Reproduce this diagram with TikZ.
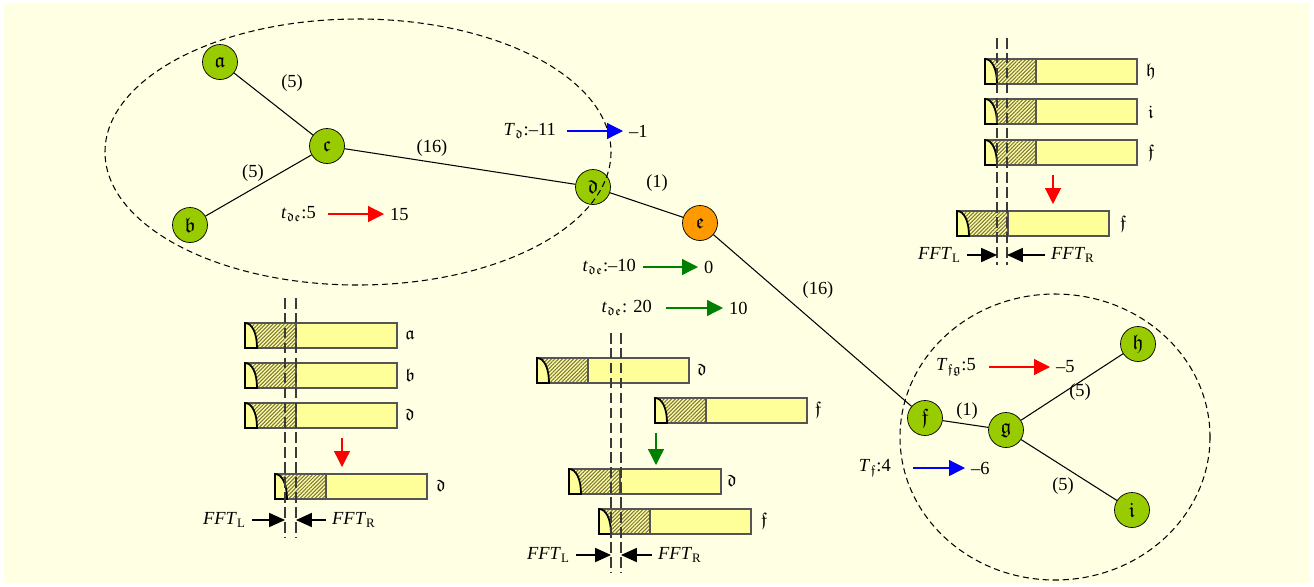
\documentclass[tikz,border=0pt]{standalone}
\usepackage{fontspec}
\setmainfont{Liberation Serif}
\usepackage{amssymb}
\usetikzlibrary{arrows.meta,patterns.meta}

\definecolor{bgyellow}{HTML}{FFFFE3}
\definecolor{taskgreen}{HTML}{99CC00}
\definecolor{taskorange}{HTML}{FF9900}
\definecolor{barfill}{HTML}{FFFF99}
\definecolor{barline}{HTML}{555555}
\definecolor{hatchline}{HTML}{7A7448}
\definecolor{cutgray}{HTML}{3A3A3A}
\definecolor{movegreen}{HTML}{008000}

\tikzset{
  task/.style={circle,draw=black,fill=taskgreen,minimum size=0.70cm,inner sep=0pt,font=\fontsize{12}{14}\selectfont},
  edge/.style={draw=black,line width=0.6pt},
  cluster/.style={draw=black,line width=0.6pt,dash pattern=on 3.5pt off 2.2pt},
  shift arrow/.style={line width=0.7pt,-{Triangle[length=9pt,width=9pt]}},
  drop arrow/.style={line width=0.7pt,-{Triangle[length=9pt,width=9pt]}},
  fft arrow/.style={black,line width=0.7pt,-{Triangle[length=9pt,width=8pt]}},
  cutline/.style={cutgray,line width=1.6pt,dash pattern=on 6pt off 2.5pt},
  taskbar/.pic={
    \fill[barfill] (0,0) rectangle (152,25);
    \fill[pattern={Lines[angle=45,distance=1.5pt,line width=0.6pt]},pattern color=hatchline] (0,0) rectangle (51,25);
    \fill[barfill] (0,0) .. controls (7,0) and (12,10) .. (12,25) -- (0,25) -- cycle;
    \draw[barline,line width=0.6pt] (0,0) rectangle (152,25);
    \draw[barline,line width=0.6pt] (51,0) -- (51,25);
    \draw[black,line width=1pt] (0,0) .. controls (7,0) and (12,10) .. (12,25) -- (0,25) -- cycle;
  }
}

\begin{document}
\begin{tikzpicture}[x=0.02cm,y=-0.02cm,font=\fontsize{10.5}{12}\selectfont]
   \useasboundingbox (0,0) rectangle (1314,586);
   \fill[bgyellow] (4,3) rectangle (1310,583);

   % task graph
   \node[task] (a) at (220,62)  {$\mathfrak{a}$};
   \node[task] (b) at (190,225) {$\mathfrak{b}$};
   \node[task] (c) at (327,146) {$\mathfrak{c}$};
   \node[task] (d) at (593,187) {$\mathfrak{d}$};
   \node[task,fill=taskorange] (e) at (700,223) {$\mathfrak{e}$};
   \node[task] (f) at (925,418) {$\mathfrak{f}$};
   \node[task] (g) at (1006,430) {$\mathfrak{g}$};
   \node[task] (h) at (1138,344) {$\mathfrak{h}$};
   \node[task] (i) at (1132,510) {$\mathfrak{i}$};

   \draw[edge] (a) -- (c);
   \draw[edge] (b) -- (c);
   \draw[edge] (c) -- (d);
   \draw[edge] (d) -- (e);
   \draw[edge] (e) -- (f);
   \draw[edge] (f) -- (g);
   \draw[edge] (g) -- (h);
   \draw[edge] (g) -- (i);

   \node (wac) at (292,83)  {(5)};
   \node (wbc) at (253,173) {(5)};
   \node (wcd) at (432,148) {(16)};
   \node (wde) at (657,183) {(1)};
   \node (wef) at (818,290) {(16)};
   \node (wfg) at (967,411) {(1)};
   \node (wgh) at (1080,392) {(5)};
   \node (wgi) at (1063,486) {(5)};

   % clusters
   \draw[cluster] (358,152) ellipse [x radius=253, y radius=133];
   \draw[cluster] (1055,437) ellipse [x radius=155, y radius=143];

   % time shifts
   \node[anchor=east] (tdeA) at (322,214) {\textit{t}$_{\mathfrak{de}}$:5};
   \node[anchor=west] (tdeAv) at (384,214) {15};
   \draw[shift arrow,red] (tdeA.east) ++(6,0) -- (tdeAv.west);
   \node[anchor=east] (Td) at (562,131) {\textit{T}$_{\mathfrak{d}}$:–11};
   \node[anchor=west] (Tdv) at (623,131) {–1};
   \draw[shift arrow,blue] (Td.east) ++(5,0) -- (Tdv.west);
   \node[anchor=east] (tdeB) at (642,267) {\textit{t}$_{\mathfrak{de}}$:–10};
   \node[anchor=west] (tdeBv) at (698,267) {0};
   \draw[shift arrow,movegreen] (tdeB.east) ++(1,0) -- (tdeBv.west);
   \node[anchor=east] (tdeC) at (658,308) {\textit{t}$_{\mathfrak{de}}$: 20};
   \node[anchor=west] (tdeCv) at (723,308) {10};
   \draw[shift arrow,movegreen] (tdeC.east) ++(8,0) -- (tdeCv.west);
   \node[anchor=east] (Tfg) at (982,367) {\textit{T}$_{\mathfrak{fg}}$:5};
   \node[anchor=west] (Tfgv) at (1050,367) {–5};
   \draw[shift arrow,red] (Tfg.east) ++(7,0) -- (Tfgv.west);
   \node[anchor=east] (Tf) at (897,468) {\textit{T}$_{\mathfrak{f}}$:4};
   \node[anchor=west] (Tfv) at (965,468) {–6};
   \draw[shift arrow,blue] (Tf.east) ++(16,0) -- (Tfv.west);

   % bars, left group
   \pic at (245,323) {taskbar};
   \pic at (245,363) {taskbar};
   \pic at (245,403) {taskbar};
   \pic at (275,474) {taskbar};
   \node (barA) at (410,335) {$\mathfrak{a}$};
   \node (barB) at (410,375) {$\mathfrak{b}$};
   \node (barD) at (410,415) {$\mathfrak{d}$};
   \node (barDm) at (441,486) {$\mathfrak{d}$};
   \draw[drop arrow,red] (342,438) -- (342,467);
   \draw[cutline] (285,298) -- (285,537);
   \draw[cutline] (296,298) -- (296,537);
   \node[anchor=east] (fftLa) at (252,520) {\textit{FFT}\textsubscript{L}};
   \node[anchor=west] (fftRa) at (326,520) {\textit{FFT}\textsubscript{R}};
   \coordinate (cutLa) at (285,520);
   \coordinate (cutRa) at (296,520);
   \draw[fft arrow] (fftLa) -- (cutLa);
   \draw[fft arrow] (fftRa) -- (cutRa);

   % bars, middle group
   \pic at (537,358) {taskbar};
   \pic at (655,398) {taskbar};
   \pic at (569,469) {taskbar};
   \pic at (599,509) {taskbar};
   \node (barDb) at (702,370) {$\mathfrak{d}$};
   \node (barFb) at (818,410) {$\mathfrak{f}$};
   \node (barDc) at (732,481) {$\mathfrak{d}$};
   \node (barFc) at (764,521) {$\mathfrak{f}$};
   \draw[drop arrow,movegreen] (656,433) -- (656,465);
   \draw[cutline] (611,333) -- (611,572);
   \draw[cutline] (621,333) -- (621,572);
   \node[anchor=east] (fftLb) at (576,555) {\textit{FFT}\textsubscript{L}};
   \node[anchor=west] (fftRb) at (652,555) {\textit{FFT}\textsubscript{R}};
   \coordinate (cutLb) at (611,555);
   \coordinate (cutRb) at (621,555);
   \draw[fft arrow] (fftLb) -- (cutLb);
   \draw[fft arrow] (fftRb) -- (cutRb);

   % bars, right group
   \pic at (985,59)  {taskbar};
   \pic at (985,99)  {taskbar};
   \pic at (985,140) {taskbar};
   \pic at (957,211) {taskbar};
   \node (barH) at (1151,72)  {$\mathfrak{h}$};
   \node (barI) at (1151,112) {$\mathfrak{i}$};
   \node (barF) at (1151,153) {$\mathfrak{f}$};
   \node (barFm) at (1123,224) {$\mathfrak{f}$};
   \draw[drop arrow,red] (1053,175) -- (1053,204);
   \draw[cutline] (997,38) -- (997,265);
   \draw[cutline] (1007,38) -- (1007,265);
   \node[anchor=east] (fftLc) at (967,255) {\textit{FFT}\textsubscript{L}};
   \node[anchor=west] (fftRc) at (1045,255) {\textit{FFT}\textsubscript{R}};
   \coordinate (cutLc) at (997,255);
   \coordinate (cutRc) at (1007,255);
   \draw[fft arrow] (fftLc) -- (cutLc);
   \draw[fft arrow] (fftRc) -- (cutRc);
\end{tikzpicture}
\end{document}
